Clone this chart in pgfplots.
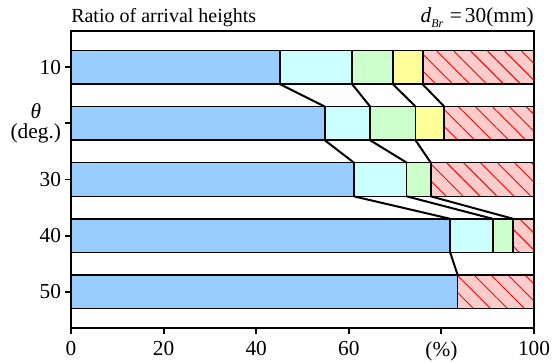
\documentclass[border=0pt]{standalone}
\usepackage{fontspec}
\setmainfont{Liberation Serif}
\usepackage{pgfplots}
\pgfplotsset{compat=1.18}
\usetikzlibrary{patterns.meta}
\definecolor{cblue}{RGB}{153,204,255}
\definecolor{ccyan}{RGB}{204,255,255}
\definecolor{cgreen}{RGB}{204,255,204}
\definecolor{cyellow}{RGB}{255,255,153}
\definecolor{cpink}{RGB}{255,204,204}
\begin{document}
\fontsize{16}{18}\selectfont
\begin{tikzpicture}
\begin{axis}[
  name=main, anchor=south west, at={(0,0)},
  scale only axis, width=347.25pt, height=222.75pt,
  xbar stacked, bar width=0.6,
  xmin=0, xmax=100, ymin=0.355, ymax=5.645, y dir=reverse,
  xtick={0,20,40,60,80,100}, xticklabels={0,20,40,60,(\%),100},
  ytick={1,2,3,4,5}, yticklabels={10,{\textit{θ}\\[-2pt](deg.)},30,40,50},
  yticklabel style={align=center, xshift=2.5pt},
  tick align=outside, tick pos=left,
  major tick length=4.5pt,
  axis line style={line width=1.8pt},
  every tick/.style={black, line width=1.4pt},
  tick label style={font=\rmfamily\fontsize{16}{17}\selectfont},
  clip=false,
]
\addplot[fill=cblue, draw=black, line width=1.2pt] coordinates {(45.1,1) (54.8,2) (61.1,3) (81.9,4) (83.5,5)};
\addplot[fill=ccyan, draw=black, line width=1.2pt] coordinates {(15.6,1) (9.8,2) (11.4,3) (9.2,4) (0,5)};
\addplot[fill=cgreen, draw=black, line width=1.2pt] coordinates {(8.8,1) (9.8,2) (5.2,3) (4.4,4) (0,5)};
\addplot[fill=cyellow, draw=black, line width=1.2pt] coordinates {(6.5,1) (6.2,2) (0,3) (0,4) (0,5)};
\addplot[fill=cpink, draw=black, line width=1.2pt,
  postaction={pattern={Lines[angle=-45,distance=9pt,line width=0.7pt]}, pattern color=red}]
  coordinates {(24.0,1) (19.4,2) (22.3,3) (4.5,4) (16.5,5)};
\end{axis}
\begin{axis}[
  anchor=south west, at={(0,0)},
  scale only axis, width=347.25pt, height=222.75pt,
  xmin=0, xmax=100, ymin=0.355, ymax=5.645, y dir=reverse,
  hide axis,
]
\addplot[black, line width=1.5pt] coordinates {(45.1,1.3) (54.8,1.7)};
\addplot[black, line width=1.5pt] coordinates {(60.7,1.3) (64.6,1.7)};
\addplot[black, line width=1.5pt] coordinates {(69.5,1.3) (74.4,1.7)};
\addplot[black, line width=1.5pt] coordinates {(75.9,1.3) (80.6,1.7)};
\addplot[black, line width=1.5pt] coordinates {(54.8,2.3) (61.1,2.7)};
\addplot[black, line width=1.5pt] coordinates {(64.6,2.3) (72.5,2.7)};
\addplot[black, line width=1.5pt] coordinates {(74.4,2.3) (77.7,2.7)};
\addplot[black, line width=1.5pt] coordinates {(61.1,3.3) (81.9,3.7)};
\addplot[black, line width=1.5pt] coordinates {(72.5,3.3) (91.1,3.7)};
\addplot[black, line width=1.5pt] coordinates {(77.7,3.3) (95.5,3.7)};
\addplot[black, line width=1.5pt] coordinates {(81.9,4.3) (83.5,4.7)};
\end{axis}
\node[anchor=base west, inner sep=0pt, font=\rmfamily\fontsize{15}{17}\selectfont] at ([yshift=6.5pt]main.north west) {Ratio of arrival heights};
\node[anchor=base east, inner sep=0pt, font=\rmfamily\fontsize{16}{18}\selectfont] at ([yshift=6.5pt]main.north east) {\textit{d}\raisebox{-0.5ex}{\fontsize{9}{10}\selectfont\textit{Br}}\hspace{0.3em}=\hspace{0.15em}30(mm)};
\pgfresetboundingbox
\path[use as bounding box] (-53.25pt,-24.75pt) rectangle (363pt,246pt);
\end{tikzpicture}
\end{document}
